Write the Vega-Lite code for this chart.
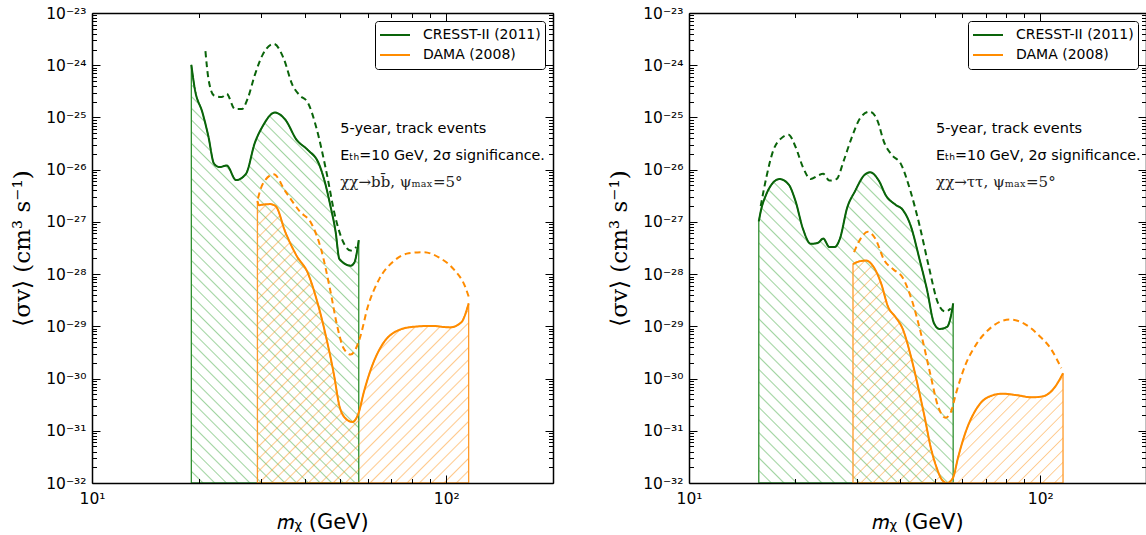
{
  "$schema": "https://vega.github.io/schema/vega-lite/v6.json",
  "padding": {"left": 11, "top": 6, "right": 0, "bottom": 0},
  "background": "white",
  "spacing": 136,
  "bounds": "flush",
  "config": {"view": {"stroke": null}},
  "datasets": {
    "curves": [
      {"panel": "bb", "series": "CRESST-II (2011)", "kind": "solid", "mass": 19.07, "sigmav": 1.02e-24},
      {"panel": "bb", "series": "CRESST-II (2011)", "kind": "solid", "mass": 19.5, "sigmav": 3.55e-25},
      {"panel": "bb", "series": "CRESST-II (2011)", "kind": "solid", "mass": 20.5, "sigmav": 1.24e-25},
      {"panel": "bb", "series": "CRESST-II (2011)", "kind": "solid", "mass": 21.3, "sigmav": 4.37e-26},
      {"panel": "bb", "series": "CRESST-II (2011)", "kind": "solid", "mass": 22.1, "sigmav": 1.30e-26},
      {"panel": "bb", "series": "CRESST-II (2011)", "kind": "solid", "mass": 22.9, "sigmav": 1.12e-26},
      {"panel": "bb", "series": "CRESST-II (2011)", "kind": "solid", "mass": 24.0, "sigmav": 1.20e-26},
      {"panel": "bb", "series": "CRESST-II (2011)", "kind": "solid", "mass": 25.5, "sigmav": 6.31e-27},
      {"panel": "bb", "series": "CRESST-II (2011)", "kind": "solid", "mass": 27.2, "sigmav": 8.32e-27},
      {"panel": "bb", "series": "CRESST-II (2011)", "kind": "solid", "mass": 28.8, "sigmav": 3.24e-26},
      {"panel": "bb", "series": "CRESST-II (2011)", "kind": "solid", "mass": 30.3, "sigmav": 6.76e-26},
      {"panel": "bb", "series": "CRESST-II (2011)", "kind": "solid", "mass": 32.8, "sigmav": 1.24e-25},
      {"panel": "bb", "series": "CRESST-II (2011)", "kind": "solid", "mass": 35.1, "sigmav": 9.12e-26},
      {"panel": "bb", "series": "CRESST-II (2011)", "kind": "solid", "mass": 37.8, "sigmav": 3.72e-26},
      {"panel": "bb", "series": "CRESST-II (2011)", "kind": "solid", "mass": 40.6, "sigmav": 2.40e-26},
      {"panel": "bb", "series": "CRESST-II (2011)", "kind": "solid", "mass": 43.7, "sigmav": 1.29e-26},
      {"panel": "bb", "series": "CRESST-II (2011)", "kind": "solid", "mass": 45.3, "sigmav": 6.17e-27},
      {"panel": "bb", "series": "CRESST-II (2011)", "kind": "solid", "mass": 47.0, "sigmav": 2.14e-27},
      {"panel": "bb", "series": "CRESST-II (2011)", "kind": "solid", "mass": 48.7, "sigmav": 6.46e-28},
      {"panel": "bb", "series": "CRESST-II (2011)", "kind": "solid", "mass": 49.9, "sigmav": 1.95e-28},
      {"panel": "bb", "series": "CRESST-II (2011)", "kind": "solid", "mass": 53.7, "sigmav": 1.45e-28},
      {"panel": "bb", "series": "CRESST-II (2011)", "kind": "solid", "mass": 55.0, "sigmav": 1.66e-28},
      {"panel": "bb", "series": "CRESST-II (2011)", "kind": "solid", "mass": 56.6, "sigmav": 4.47e-28},

      {"panel": "bb", "series": "CRESST-II (2011)", "kind": "dashed", "mass": 20.9, "sigmav": 1.86e-24},
      {"panel": "bb", "series": "CRESST-II (2011)", "kind": "dashed", "mass": 21.3, "sigmav": 5.62e-25},
      {"panel": "bb", "series": "CRESST-II (2011)", "kind": "dashed", "mass": 22.1, "sigmav": 2.63e-25},
      {"panel": "bb", "series": "CRESST-II (2011)", "kind": "dashed", "mass": 23.2, "sigmav": 2.45e-25},
      {"panel": "bb", "series": "CRESST-II (2011)", "kind": "dashed", "mass": 24.0, "sigmav": 2.82e-25},
      {"panel": "bb", "series": "CRESST-II (2011)", "kind": "dashed", "mass": 25.3, "sigmav": 1.45e-25},
      {"panel": "bb", "series": "CRESST-II (2011)", "kind": "dashed", "mass": 26.5, "sigmav": 1.45e-25},
      {"panel": "bb", "series": "CRESST-II (2011)", "kind": "dashed", "mass": 27.5, "sigmav": 2.29e-25},
      {"panel": "bb", "series": "CRESST-II (2011)", "kind": "dashed", "mass": 28.8, "sigmav": 6.46e-25},
      {"panel": "bb", "series": "CRESST-II (2011)", "kind": "dashed", "mass": 30.3, "sigmav": 1.58e-24},
      {"panel": "bb", "series": "CRESST-II (2011)", "kind": "dashed", "mass": 32.6, "sigmav": 2.57e-24},
      {"panel": "bb", "series": "CRESST-II (2011)", "kind": "dashed", "mass": 34.7, "sigmav": 1.38e-24},
      {"panel": "bb", "series": "CRESST-II (2011)", "kind": "dashed", "mass": 36.8, "sigmav": 4.17e-25},
      {"panel": "bb", "series": "CRESST-II (2011)", "kind": "dashed", "mass": 38.6, "sigmav": 2.63e-25},
      {"panel": "bb", "series": "CRESST-II (2011)", "kind": "dashed", "mass": 40.6, "sigmav": 1.95e-25},
      {"panel": "bb", "series": "CRESST-II (2011)", "kind": "dashed", "mass": 43.1, "sigmav": 5.89e-26},
      {"panel": "bb", "series": "CRESST-II (2011)", "kind": "dashed", "mass": 45.8, "sigmav": 9.55e-27},
      {"panel": "bb", "series": "CRESST-II (2011)", "kind": "dashed", "mass": 48.7, "sigmav": 1.17e-27},
      {"panel": "bb", "series": "CRESST-II (2011)", "kind": "dashed", "mass": 51.2, "sigmav": 4.07e-28},
      {"panel": "bb", "series": "CRESST-II (2011)", "kind": "dashed", "mass": 53.7, "sigmav": 2.82e-28},
      {"panel": "bb", "series": "CRESST-II (2011)", "kind": "dashed", "mass": 55.7, "sigmav": 3.31e-28},

      {"panel": "bb", "series": "DAMA (2008)", "kind": "solid", "mass": 29.3, "sigmav": 2.51e-27},
      {"panel": "bb", "series": "DAMA (2008)", "kind": "solid", "mass": 29.6, "sigmav": 2.09e-27},
      {"panel": "bb", "series": "DAMA (2008)", "kind": "solid", "mass": 30.3, "sigmav": 2.14e-27},
      {"panel": "bb", "series": "DAMA (2008)", "kind": "solid", "mass": 31.8, "sigmav": 2.19e-27},
      {"panel": "bb", "series": "DAMA (2008)", "kind": "solid", "mass": 33.0, "sigmav": 2.00e-27},
      {"panel": "bb", "series": "DAMA (2008)", "kind": "solid", "mass": 35.1, "sigmav": 6.46e-28},
      {"panel": "bb", "series": "DAMA (2008)", "kind": "solid", "mass": 37.8, "sigmav": 2.24e-28},
      {"panel": "bb", "series": "DAMA (2008)", "kind": "solid", "mass": 40.6, "sigmav": 1.07e-28},
      {"panel": "bb", "series": "DAMA (2008)", "kind": "solid", "mass": 43.1, "sigmav": 3.16e-29},
      {"panel": "bb", "series": "DAMA (2008)", "kind": "solid", "mass": 45.8, "sigmav": 6.17e-30},
      {"panel": "bb", "series": "DAMA (2008)", "kind": "solid", "mass": 48.2, "sigmav": 1.17e-30},
      {"panel": "bb", "series": "DAMA (2008)", "kind": "solid", "mass": 49.9, "sigmav": 3.02e-31},
      {"panel": "bb", "series": "DAMA (2008)", "kind": "solid", "mass": 51.7, "sigmav": 1.78e-31},
      {"panel": "bb", "series": "DAMA (2008)", "kind": "solid", "mass": 54.3, "sigmav": 1.48e-31},
      {"panel": "bb", "series": "DAMA (2008)", "kind": "solid", "mass": 56.6, "sigmav": 2.24e-31},
      {"panel": "bb", "series": "DAMA (2008)", "kind": "solid", "mass": 58.5, "sigmav": 5.50e-31},
      {"panel": "bb", "series": "DAMA (2008)", "kind": "solid", "mass": 61.4, "sigmav": 1.58e-30},
      {"panel": "bb", "series": "DAMA (2008)", "kind": "solid", "mass": 66.1, "sigmav": 4.57e-30},
      {"panel": "bb", "series": "DAMA (2008)", "kind": "solid", "mass": 71.1, "sigmav": 7.59e-30},
      {"panel": "bb", "series": "DAMA (2008)", "kind": "solid", "mass": 80.3, "sigmav": 9.77e-30},
      {"panel": "bb", "series": "DAMA (2008)", "kind": "solid", "mass": 90.8, "sigmav": 1.02e-29},
      {"panel": "bb", "series": "DAMA (2008)", "kind": "solid", "mass": 102.5, "sigmav": 9.55e-30},
      {"panel": "bb", "series": "DAMA (2008)", "kind": "solid", "mass": 110.3, "sigmav": 1.20e-29},
      {"panel": "bb", "series": "DAMA (2008)", "kind": "solid", "mass": 115.6, "sigmav": 2.75e-29},

      {"panel": "bb", "series": "DAMA (2008)", "kind": "dashed", "mass": 29.4, "sigmav": 2.82e-27},
      {"panel": "bb", "series": "DAMA (2008)", "kind": "dashed", "mass": 30.3, "sigmav": 5.25e-27},
      {"panel": "bb", "series": "DAMA (2008)", "kind": "dashed", "mass": 32.6, "sigmav": 8.13e-27},
      {"panel": "bb", "series": "DAMA (2008)", "kind": "dashed", "mass": 35.1, "sigmav": 3.89e-27},
      {"panel": "bb", "series": "DAMA (2008)", "kind": "dashed", "mass": 38.6, "sigmav": 1.58e-27},
      {"panel": "bb", "series": "DAMA (2008)", "kind": "dashed", "mass": 41.6, "sigmav": 9.33e-28},
      {"panel": "bb", "series": "DAMA (2008)", "kind": "dashed", "mass": 44.3, "sigmav": 3.02e-28},
      {"panel": "bb", "series": "DAMA (2008)", "kind": "dashed", "mass": 47.0, "sigmav": 5.01e-29},
      {"panel": "bb", "series": "DAMA (2008)", "kind": "dashed", "mass": 49.3, "sigmav": 9.55e-30},
      {"panel": "bb", "series": "DAMA (2008)", "kind": "dashed", "mass": 51.2, "sigmav": 3.89e-30},
      {"panel": "bb", "series": "DAMA (2008)", "kind": "dashed", "mass": 53.7, "sigmav": 2.88e-30},
      {"panel": "bb", "series": "DAMA (2008)", "kind": "dashed", "mass": 55.7, "sigmav": 3.89e-30},
      {"panel": "bb", "series": "DAMA (2008)", "kind": "dashed", "mass": 57.1, "sigmav": 6.17e-30},
      {"panel": "bb", "series": "DAMA (2008)", "kind": "dashed", "mass": 60.0, "sigmav": 2.34e-29},
      {"panel": "bb", "series": "DAMA (2008)", "kind": "dashed", "mass": 64.6, "sigmav": 7.94e-29},
      {"panel": "bb", "series": "DAMA (2008)", "kind": "dashed", "mass": 71.1, "sigmav": 1.78e-28},
      {"panel": "bb", "series": "DAMA (2008)", "kind": "dashed", "mass": 78.3, "sigmav": 2.51e-28},
      {"panel": "bb", "series": "DAMA (2008)", "kind": "dashed", "mass": 86.3, "sigmav": 2.63e-28},
      {"panel": "bb", "series": "DAMA (2008)", "kind": "dashed", "mass": 95.2, "sigmav": 2.09e-28},
      {"panel": "bb", "series": "DAMA (2008)", "kind": "dashed", "mass": 105.0, "sigmav": 1.23e-28},
      {"panel": "bb", "series": "DAMA (2008)", "kind": "dashed", "mass": 113.0, "sigmav": 5.75e-29},
      {"panel": "bb", "series": "DAMA (2008)", "kind": "dashed", "mass": 115.6, "sigmav": 3.72e-29},

      {"panel": "tt", "series": "CRESST-II (2011)", "kind": "solid", "mass": 15.8, "sigmav": 1.02e-27},
      {"panel": "tt", "series": "CRESST-II (2011)", "kind": "solid", "mass": 16.0, "sigmav": 1.58e-27},
      {"panel": "tt", "series": "CRESST-II (2011)", "kind": "solid", "mass": 16.6, "sigmav": 3.39e-27},
      {"panel": "tt", "series": "CRESST-II (2011)", "kind": "solid", "mass": 17.2, "sigmav": 5.25e-27},
      {"panel": "tt", "series": "CRESST-II (2011)", "kind": "solid", "mass": 18.1, "sigmav": 6.61e-27},
      {"panel": "tt", "series": "CRESST-II (2011)", "kind": "solid", "mass": 19.2, "sigmav": 5.25e-27},
      {"panel": "tt", "series": "CRESST-II (2011)", "kind": "solid", "mass": 20.1, "sigmav": 2.51e-27},
      {"panel": "tt", "series": "CRESST-II (2011)", "kind": "solid", "mass": 21.1, "sigmav": 7.41e-28},
      {"panel": "tt", "series": "CRESST-II (2011)", "kind": "solid", "mass": 22.2, "sigmav": 3.80e-28},
      {"panel": "tt", "series": "CRESST-II (2011)", "kind": "solid", "mass": 23.3, "sigmav": 3.98e-28},
      {"panel": "tt", "series": "CRESST-II (2011)", "kind": "solid", "mass": 24.1, "sigmav": 4.79e-28},
      {"panel": "tt", "series": "CRESST-II (2011)", "kind": "solid", "mass": 25.1, "sigmav": 3.31e-28},
      {"panel": "tt", "series": "CRESST-II (2011)", "kind": "solid", "mass": 26.0, "sigmav": 3.31e-28},
      {"panel": "tt", "series": "CRESST-II (2011)", "kind": "solid", "mass": 26.9, "sigmav": 4.79e-28},
      {"panel": "tt", "series": "CRESST-II (2011)", "kind": "solid", "mass": 28.2, "sigmav": 1.86e-27},
      {"panel": "tt", "series": "CRESST-II (2011)", "kind": "solid", "mass": 29.7, "sigmav": 3.89e-27},
      {"panel": "tt", "series": "CRESST-II (2011)", "kind": "solid", "mass": 31.5, "sigmav": 7.76e-27},
      {"panel": "tt", "series": "CRESST-II (2011)", "kind": "solid", "mass": 32.8, "sigmav": 8.91e-27},
      {"panel": "tt", "series": "CRESST-II (2011)", "kind": "solid", "mass": 34.7, "sigmav": 6.17e-27},
      {"panel": "tt", "series": "CRESST-II (2011)", "kind": "solid", "mass": 36.4, "sigmav": 3.16e-27},
      {"panel": "tt", "series": "CRESST-II (2011)", "kind": "solid", "mass": 38.7, "sigmav": 2.14e-27},
      {"panel": "tt", "series": "CRESST-II (2011)", "kind": "solid", "mass": 40.6, "sigmav": 1.70e-27},
      {"panel": "tt", "series": "CRESST-II (2011)", "kind": "solid", "mass": 42.7, "sigmav": 8.71e-28},
      {"panel": "tt", "series": "CRESST-II (2011)", "kind": "solid", "mass": 45.3, "sigmav": 1.95e-28},
      {"panel": "tt", "series": "CRESST-II (2011)", "kind": "solid", "mass": 47.6, "sigmav": 5.01e-29},
      {"panel": "tt", "series": "CRESST-II (2011)", "kind": "solid", "mass": 49.9, "sigmav": 1.12e-29},
      {"panel": "tt", "series": "CRESST-II (2011)", "kind": "solid", "mass": 51.7, "sigmav": 8.91e-30},
      {"panel": "tt", "series": "CRESST-II (2011)", "kind": "solid", "mass": 54.3, "sigmav": 9.77e-30},
      {"panel": "tt", "series": "CRESST-II (2011)", "kind": "solid", "mass": 55.6, "sigmav": 1.51e-29},
      {"panel": "tt", "series": "CRESST-II (2011)", "kind": "solid", "mass": 56.5, "sigmav": 2.75e-29},

      {"panel": "tt", "series": "CRESST-II (2011)", "kind": "dashed", "mass": 16.0, "sigmav": 2.00e-27},
      {"panel": "tt", "series": "CRESST-II (2011)", "kind": "dashed", "mass": 16.6, "sigmav": 7.08e-27},
      {"panel": "tt", "series": "CRESST-II (2011)", "kind": "dashed", "mass": 17.4, "sigmav": 2.40e-26},
      {"panel": "tt", "series": "CRESST-II (2011)", "kind": "dashed", "mass": 18.3, "sigmav": 3.98e-26},
      {"panel": "tt", "series": "CRESST-II (2011)", "kind": "dashed", "mass": 19.2, "sigmav": 4.68e-26},
      {"panel": "tt", "series": "CRESST-II (2011)", "kind": "dashed", "mass": 20.1, "sigmav": 2.75e-26},
      {"panel": "tt", "series": "CRESST-II (2011)", "kind": "dashed", "mass": 21.1, "sigmav": 1.12e-26},
      {"panel": "tt", "series": "CRESST-II (2011)", "kind": "dashed", "mass": 22.2, "sigmav": 6.61e-27},
      {"panel": "tt", "series": "CRESST-II (2011)", "kind": "dashed", "mass": 23.3, "sigmav": 7.76e-27},
      {"panel": "tt", "series": "CRESST-II (2011)", "kind": "dashed", "mass": 24.1, "sigmav": 8.32e-27},
      {"panel": "tt", "series": "CRESST-II (2011)", "kind": "dashed", "mass": 25.1, "sigmav": 6.17e-27},
      {"panel": "tt", "series": "CRESST-II (2011)", "kind": "dashed", "mass": 26.3, "sigmav": 6.61e-27},
      {"panel": "tt", "series": "CRESST-II (2011)", "kind": "dashed", "mass": 27.6, "sigmav": 1.51e-26},
      {"panel": "tt", "series": "CRESST-II (2011)", "kind": "dashed", "mass": 29.0, "sigmav": 3.98e-26},
      {"panel": "tt", "series": "CRESST-II (2011)", "kind": "dashed", "mass": 30.8, "sigmav": 1.00e-25},
      {"panel": "tt", "series": "CRESST-II (2011)", "kind": "dashed", "mass": 32.7, "sigmav": 1.29e-25},
      {"panel": "tt", "series": "CRESST-II (2011)", "kind": "dashed", "mass": 34.3, "sigmav": 9.12e-26},
      {"panel": "tt", "series": "CRESST-II (2011)", "kind": "dashed", "mass": 36.0, "sigmav": 3.24e-26},
      {"panel": "tt", "series": "CRESST-II (2011)", "kind": "dashed", "mass": 37.8, "sigmav": 1.91e-26},
      {"panel": "tt", "series": "CRESST-II (2011)", "kind": "dashed", "mass": 40.1, "sigmav": 1.29e-26},
      {"panel": "tt", "series": "CRESST-II (2011)", "kind": "dashed", "mass": 42.7, "sigmav": 3.89e-27},
      {"panel": "tt", "series": "CRESST-II (2011)", "kind": "dashed", "mass": 45.3, "sigmav": 8.71e-28},
      {"panel": "tt", "series": "CRESST-II (2011)", "kind": "dashed", "mass": 48.1, "sigmav": 1.45e-28},
      {"panel": "tt", "series": "CRESST-II (2011)", "kind": "dashed", "mass": 51.2, "sigmav": 2.75e-29},
      {"panel": "tt", "series": "CRESST-II (2011)", "kind": "dashed", "mass": 53.7, "sigmav": 1.91e-29},
      {"panel": "tt", "series": "CRESST-II (2011)", "kind": "dashed", "mass": 55.6, "sigmav": 2.19e-29},

      {"panel": "tt", "series": "DAMA (2008)", "kind": "solid", "mass": 29.3, "sigmav": 1.55e-28},
      {"panel": "tt", "series": "DAMA (2008)", "kind": "solid", "mass": 30.4, "sigmav": 1.74e-28},
      {"panel": "tt", "series": "DAMA (2008)", "kind": "solid", "mass": 31.9, "sigmav": 1.82e-28},
      {"panel": "tt", "series": "DAMA (2008)", "kind": "solid", "mass": 33.1, "sigmav": 1.55e-28},
      {"panel": "tt", "series": "DAMA (2008)", "kind": "solid", "mass": 35.2, "sigmav": 6.76e-29},
      {"panel": "tt", "series": "DAMA (2008)", "kind": "solid", "mass": 36.9, "sigmav": 2.34e-29},
      {"panel": "tt", "series": "DAMA (2008)", "kind": "solid", "mass": 38.7, "sigmav": 1.51e-29},
      {"panel": "tt", "series": "DAMA (2008)", "kind": "solid", "mass": 40.6, "sigmav": 8.91e-30},
      {"panel": "tt", "series": "DAMA (2008)", "kind": "solid", "mass": 42.7, "sigmav": 2.88e-30},
      {"panel": "tt", "series": "DAMA (2008)", "kind": "solid", "mass": 44.8, "sigmav": 7.41e-31},
      {"panel": "tt", "series": "DAMA (2008)", "kind": "solid", "mass": 47.0, "sigmav": 1.66e-31},
      {"panel": "tt", "series": "DAMA (2008)", "kind": "solid", "mass": 48.7, "sigmav": 5.01e-32},
      {"panel": "tt", "series": "DAMA (2008)", "kind": "solid", "mass": 50.6, "sigmav": 2.04e-32},
      {"panel": "tt", "series": "DAMA (2008)", "kind": "solid", "mass": 52.5, "sigmav": 1.15e-32},
      {"panel": "tt", "series": "DAMA (2008)", "kind": "solid", "mass": 54.3, "sigmav": 1.0e-32},
      {"panel": "tt", "series": "DAMA (2008)", "kind": "solid", "mass": 56.4, "sigmav": 1.25e-32},
      {"panel": "tt", "series": "DAMA (2008)", "kind": "solid", "mass": 58.4, "sigmav": 3.16e-32},
      {"panel": "tt", "series": "DAMA (2008)", "kind": "solid", "mass": 61.2, "sigmav": 9.12e-32},
      {"panel": "tt", "series": "DAMA (2008)", "kind": "solid", "mass": 65.8, "sigmav": 2.63e-31},
      {"panel": "tt", "series": "DAMA (2008)", "kind": "solid", "mass": 70.8, "sigmav": 4.37e-31},
      {"panel": "tt", "series": "DAMA (2008)", "kind": "solid", "mass": 78.0, "sigmav": 5.13e-31},
      {"panel": "tt", "series": "DAMA (2008)", "kind": "solid", "mass": 85.9, "sigmav": 4.79e-31},
      {"panel": "tt", "series": "DAMA (2008)", "kind": "solid", "mass": 94.6, "sigmav": 4.37e-31},
      {"panel": "tt", "series": "DAMA (2008)", "kind": "solid", "mass": 101.7, "sigmav": 4.57e-31},
      {"panel": "tt", "series": "DAMA (2008)", "kind": "solid", "mass": 109.3, "sigmav": 6.46e-31},
      {"panel": "tt", "series": "DAMA (2008)", "kind": "solid", "mass": 116.1, "sigmav": 1.26e-30},

      {"panel": "tt", "series": "DAMA (2008)", "kind": "dashed", "mass": 29.5, "sigmav": 2.63e-28},
      {"panel": "tt", "series": "DAMA (2008)", "kind": "dashed", "mass": 30.8, "sigmav": 4.79e-28},
      {"panel": "tt", "series": "DAMA (2008)", "kind": "dashed", "mass": 32.3, "sigmav": 6.46e-28},
      {"panel": "tt", "series": "DAMA (2008)", "kind": "dashed", "mass": 33.9, "sigmav": 4.79e-28},
      {"panel": "tt", "series": "DAMA (2008)", "kind": "dashed", "mass": 36.0, "sigmav": 1.82e-28},
      {"panel": "tt", "series": "DAMA (2008)", "kind": "dashed", "mass": 38.2, "sigmav": 1.23e-28},
      {"panel": "tt", "series": "DAMA (2008)", "kind": "dashed", "mass": 40.6, "sigmav": 8.51e-29},
      {"panel": "tt", "series": "DAMA (2008)", "kind": "dashed", "mass": 43.1, "sigmav": 3.16e-29},
      {"panel": "tt", "series": "DAMA (2008)", "kind": "dashed", "mass": 45.8, "sigmav": 7.08e-30},
      {"panel": "tt", "series": "DAMA (2008)", "kind": "dashed", "mass": 48.7, "sigmav": 1.17e-30},
      {"panel": "tt", "series": "DAMA (2008)", "kind": "dashed", "mass": 51.1, "sigmav": 3.02e-31},
      {"panel": "tt", "series": "DAMA (2008)", "kind": "dashed", "mass": 53.7, "sigmav": 1.78e-31},
      {"panel": "tt", "series": "DAMA (2008)", "kind": "dashed", "mass": 55.6, "sigmav": 2.24e-31},
      {"panel": "tt", "series": "DAMA (2008)", "kind": "dashed", "mass": 57.7, "sigmav": 5.50e-31},
      {"panel": "tt", "series": "DAMA (2008)", "kind": "dashed", "mass": 61.2, "sigmav": 1.82e-30},
      {"panel": "tt", "series": "DAMA (2008)", "kind": "dashed", "mass": 65.8, "sigmav": 4.57e-30},
      {"panel": "tt", "series": "DAMA (2008)", "kind": "dashed", "mass": 72.5, "sigmav": 9.55e-30},
      {"panel": "tt", "series": "DAMA (2008)", "kind": "dashed", "mass": 81.8, "sigmav": 1.35e-29},
      {"panel": "tt", "series": "DAMA (2008)", "kind": "dashed", "mass": 90.2, "sigmav": 1.12e-29},
      {"panel": "tt", "series": "DAMA (2008)", "kind": "dashed", "mass": 99.3, "sigmav": 6.61e-30},
      {"panel": "tt", "series": "DAMA (2008)", "kind": "dashed", "mass": 106.7, "sigmav": 3.89e-30},
      {"panel": "tt", "series": "DAMA (2008)", "kind": "dashed", "mass": 114.8, "sigmav": 1.58e-30}
    ]
  },
  "resolve": {"scale": {"color": "independent", "strokeDash": "independent"}, "legend": {"color": "independent", "strokeDash": "independent"}},
  "hconcat": [
    {
      "width": 461,
      "height": 470,
      "data": {"name": "curves"},
      "transform": [{"filter": "datum.panel == 'bb'"}],
      "resolve": {"axis": {"x": "independent", "y": "independent"}},
      "layer": [
        {
          "transform": [{"filter": "datum.series == 'CRESST-II (2011)' && datum.kind == 'solid'"}],
          "mark": {"type": "area", "interpolate": "monotone", "clip": true, "stroke": "#2f8f2f", "strokeWidth": 1.3,
            "fill": {"gradient": "linear", "x1": 0, "y1": 1, "x2": 0.4831, "y2": -0.2069, "stops": [
              {"offset":0.0175,"color":"#44aa4400"},{"offset":0.02,"color":"#44aa4480"},{"offset":0.0225,"color":"#44aa4400"},
              {"offset":0.0375,"color":"#44aa4400"},{"offset":0.04,"color":"#44aa4480"},{"offset":0.0425,"color":"#44aa4400"},
              {"offset":0.0575,"color":"#44aa4400"},{"offset":0.06,"color":"#44aa4480"},{"offset":0.0625,"color":"#44aa4400"},
              {"offset":0.0775,"color":"#44aa4400"},{"offset":0.08,"color":"#44aa4480"},{"offset":0.0825,"color":"#44aa4400"},
              {"offset":0.0975,"color":"#44aa4400"},{"offset":0.10,"color":"#44aa4480"},{"offset":0.1025,"color":"#44aa4400"},
              {"offset":0.1175,"color":"#44aa4400"},{"offset":0.12,"color":"#44aa4480"},{"offset":0.1225,"color":"#44aa4400"},
              {"offset":0.1375,"color":"#44aa4400"},{"offset":0.14,"color":"#44aa4480"},{"offset":0.1425,"color":"#44aa4400"},
              {"offset":0.1575,"color":"#44aa4400"},{"offset":0.16,"color":"#44aa4480"},{"offset":0.1625,"color":"#44aa4400"},
              {"offset":0.1775,"color":"#44aa4400"},{"offset":0.18,"color":"#44aa4480"},{"offset":0.1825,"color":"#44aa4400"},
              {"offset":0.1975,"color":"#44aa4400"},{"offset":0.20,"color":"#44aa4480"},{"offset":0.2025,"color":"#44aa4400"},
              {"offset":0.2175,"color":"#44aa4400"},{"offset":0.22,"color":"#44aa4480"},{"offset":0.2225,"color":"#44aa4400"},
              {"offset":0.2375,"color":"#44aa4400"},{"offset":0.24,"color":"#44aa4480"},{"offset":0.2425,"color":"#44aa4400"},
              {"offset":0.2575,"color":"#44aa4400"},{"offset":0.26,"color":"#44aa4480"},{"offset":0.2625,"color":"#44aa4400"},
              {"offset":0.2775,"color":"#44aa4400"},{"offset":0.28,"color":"#44aa4480"},{"offset":0.2825,"color":"#44aa4400"},
              {"offset":0.2975,"color":"#44aa4400"},{"offset":0.30,"color":"#44aa4480"},{"offset":0.3025,"color":"#44aa4400"},
              {"offset":0.3175,"color":"#44aa4400"},{"offset":0.32,"color":"#44aa4480"},{"offset":0.3225,"color":"#44aa4400"},
              {"offset":0.3375,"color":"#44aa4400"},{"offset":0.34,"color":"#44aa4480"},{"offset":0.3425,"color":"#44aa4400"},
              {"offset":0.3575,"color":"#44aa4400"},{"offset":0.36,"color":"#44aa4480"},{"offset":0.3625,"color":"#44aa4400"},
              {"offset":0.3775,"color":"#44aa4400"},{"offset":0.38,"color":"#44aa4480"},{"offset":0.3825,"color":"#44aa4400"},
              {"offset":0.3975,"color":"#44aa4400"},{"offset":0.40,"color":"#44aa4480"},{"offset":0.4025,"color":"#44aa4400"},
              {"offset":0.4175,"color":"#44aa4400"},{"offset":0.42,"color":"#44aa4480"},{"offset":0.4225,"color":"#44aa4400"},
              {"offset":0.4375,"color":"#44aa4400"},{"offset":0.44,"color":"#44aa4480"},{"offset":0.4425,"color":"#44aa4400"},
              {"offset":0.4575,"color":"#44aa4400"},{"offset":0.46,"color":"#44aa4480"},{"offset":0.4625,"color":"#44aa4400"},
              {"offset":0.4775,"color":"#44aa4400"},{"offset":0.48,"color":"#44aa4480"},{"offset":0.4825,"color":"#44aa4400"},
              {"offset":0.4975,"color":"#44aa4400"},{"offset":0.50,"color":"#44aa4480"},{"offset":0.5025,"color":"#44aa4400"},
              {"offset":0.5175,"color":"#44aa4400"},{"offset":0.52,"color":"#44aa4480"},{"offset":0.5225,"color":"#44aa4400"},
              {"offset":0.5375,"color":"#44aa4400"},{"offset":0.54,"color":"#44aa4480"},{"offset":0.5425,"color":"#44aa4400"},
              {"offset":0.5575,"color":"#44aa4400"},{"offset":0.56,"color":"#44aa4480"},{"offset":0.5625,"color":"#44aa4400"},
              {"offset":0.5775,"color":"#44aa4400"},{"offset":0.58,"color":"#44aa4480"},{"offset":0.5825,"color":"#44aa4400"},
              {"offset":0.5975,"color":"#44aa4400"},{"offset":0.60,"color":"#44aa4480"},{"offset":0.6025,"color":"#44aa4400"},
              {"offset":0.6175,"color":"#44aa4400"},{"offset":0.62,"color":"#44aa4480"},{"offset":0.6225,"color":"#44aa4400"},
              {"offset":0.6375,"color":"#44aa4400"},{"offset":0.64,"color":"#44aa4480"},{"offset":0.6425,"color":"#44aa4400"},
              {"offset":0.6575,"color":"#44aa4400"},{"offset":0.66,"color":"#44aa4480"},{"offset":0.6625,"color":"#44aa4400"},
              {"offset":0.6775,"color":"#44aa4400"},{"offset":0.68,"color":"#44aa4480"},{"offset":0.6825,"color":"#44aa4400"},
              {"offset":0.6975,"color":"#44aa4400"},{"offset":0.70,"color":"#44aa4480"},{"offset":0.7025,"color":"#44aa4400"},
              {"offset":0.7175,"color":"#44aa4400"},{"offset":0.72,"color":"#44aa4480"},{"offset":0.7225,"color":"#44aa4400"},
              {"offset":0.7375,"color":"#44aa4400"},{"offset":0.74,"color":"#44aa4480"},{"offset":0.7425,"color":"#44aa4400"},
              {"offset":0.7575,"color":"#44aa4400"},{"offset":0.76,"color":"#44aa4480"},{"offset":0.7625,"color":"#44aa4400"},
              {"offset":0.7775,"color":"#44aa4400"},{"offset":0.78,"color":"#44aa4480"},{"offset":0.7825,"color":"#44aa4400"},
              {"offset":0.7975,"color":"#44aa4400"},{"offset":0.80,"color":"#44aa4480"},{"offset":0.8025,"color":"#44aa4400"},
              {"offset":0.8175,"color":"#44aa4400"},{"offset":0.82,"color":"#44aa4480"},{"offset":0.8225,"color":"#44aa4400"},
              {"offset":0.8375,"color":"#44aa4400"},{"offset":0.84,"color":"#44aa4480"},{"offset":0.8425,"color":"#44aa4400"},
              {"offset":0.8575,"color":"#44aa4400"},{"offset":0.86,"color":"#44aa4480"},{"offset":0.8625,"color":"#44aa4400"},
              {"offset":0.8775,"color":"#44aa4400"},{"offset":0.88,"color":"#44aa4480"},{"offset":0.8825,"color":"#44aa4400"},
              {"offset":0.8975,"color":"#44aa4400"},{"offset":0.90,"color":"#44aa4480"},{"offset":0.9025,"color":"#44aa4400"},
              {"offset":0.9175,"color":"#44aa4400"},{"offset":0.92,"color":"#44aa4480"},{"offset":0.9225,"color":"#44aa4400"},
              {"offset":0.9375,"color":"#44aa4400"},{"offset":0.94,"color":"#44aa4480"},{"offset":0.9425,"color":"#44aa4400"},
              {"offset":0.9575,"color":"#44aa4400"},{"offset":0.96,"color":"#44aa4480"},{"offset":0.9625,"color":"#44aa4400"},
              {"offset":0.9775,"color":"#44aa4400"},{"offset":0.98,"color":"#44aa4480"},{"offset":0.9825,"color":"#44aa4400"}
            ]}},
          "encoding": {
            "x": {"field": "mass", "type": "quantitative", "scale": {"type": "log", "domain": [10, 200], "nice": false},
              "axis": {"orient": "bottom", "values": [10, 20, 30, 40, 50, 60, 70, 80, 90, 100, 200], "zindex": 1, "grid": false,
                "tickSize": {"condition": {"test": "datum.value == 10 || datum.value == 100", "value": -8}, "value": -4.5},
                "tickColor": "black", "tickWidth": 1, "domainColor": "black", "domainWidth": 1.5,
                "labelExpr": "datum.value == 10 ? '10¹' : datum.value == 100 ? '10²' : ''",
                "labelFont": "DejaVu Sans", "labelFontSize": 15.5, "labelColor": "black", "labelPadding": 16, "labelFlush": false, "labelOverlap": false, "labelBound": false,
                "title": "𝑚ᵪ (GeV)", "titleFont": "DejaVu Sans", "titleFontSize": 21, "titleFontWeight": "normal", "titleColor": "black", "titlePadding": 1}},
            "y": {"field": "sigmav", "type": "quantitative", "scale": {"type": "log", "domain": [1e-32, 1e-23], "nice": false},
              "axis": {"orient": "left", "zindex": 1, "grid": false,
                "values": [1e-32,2e-32,3e-32,4e-32,5e-32,6e-32,7e-32,8e-32,9e-32,1e-31,2e-31,3e-31,4e-31,5e-31,6e-31,7e-31,8e-31,9e-31,1e-30,2e-30,3e-30,4e-30,5e-30,6e-30,7e-30,8e-30,9e-30,1e-29,2e-29,3e-29,4e-29,5e-29,6e-29,7e-29,8e-29,9e-29,1e-28,2e-28,3e-28,4e-28,5e-28,6e-28,7e-28,8e-28,9e-28,1e-27,2e-27,3e-27,4e-27,5e-27,6e-27,7e-27,8e-27,9e-27,1e-26,2e-26,3e-26,4e-26,5e-26,6e-26,7e-26,8e-26,9e-26,1e-25,2e-25,3e-25,4e-25,5e-25,6e-25,7e-25,8e-25,9e-25,1e-24,2e-24,3e-24,4e-24,5e-24,6e-24,7e-24,8e-24,9e-24,1e-23],
                "tickSize": {"condition": {"test": "abs(log(datum.value)/LN10 - round(log(datum.value)/LN10)) < 0.01", "value": -8}, "value": -4.5},
                "tickColor": "black", "tickWidth": 1, "domainColor": "black", "domainWidth": 1.5,
                "labelExpr": "abs(log(datum.value)/LN10 - round(log(datum.value)/LN10)) < 0.01 ? '10' + ['⁻³²','⁻³¹','⁻³⁰','⁻²⁹','⁻²⁸','⁻²⁷','⁻²⁶','⁻²⁵','⁻²⁴','⁻²³'][round(log(datum.value)/LN10) + 32] : ''",
                "labelFont": "DejaVu Sans", "labelFontSize": 15.5, "labelColor": "black", "labelPadding": 14, "labelFlush": false, "labelOverlap": false, "labelBound": false,
                "title": "⟨σv⟩ (cm³ s⁻¹)", "titleFont": "DejaVu Serif", "titleFontSize": 23, "titleFontWeight": "normal", "titleColor": "black", "titlePadding": 11}},
            "y2": {"datum": 1e-32}
          }
        },
        {
          "transform": [{"filter": "datum.series == 'DAMA (2008)' && datum.kind == 'solid'"}],
          "mark": {"type": "area", "interpolate": "monotone", "clip": true, "stroke": "#ff9a2a", "strokeWidth": 1.3,
            "fill": {"gradient": "linear", "x1": 0, "y1": 0, "x2": 0.8392, "y2": 1.1205, "stops": [
              {"offset":0.022,"color":"#ff880000"},{"offset":0.025,"color":"#ff880070"},{"offset":0.028,"color":"#ff880000"},
              {"offset":0.047,"color":"#ff880000"},{"offset":0.05,"color":"#ff880070"},{"offset":0.053,"color":"#ff880000"},
              {"offset":0.072,"color":"#ff880000"},{"offset":0.075,"color":"#ff880070"},{"offset":0.078,"color":"#ff880000"},
              {"offset":0.097,"color":"#ff880000"},{"offset":0.1,"color":"#ff880070"},{"offset":0.103,"color":"#ff880000"},
              {"offset":0.122,"color":"#ff880000"},{"offset":0.125,"color":"#ff880070"},{"offset":0.128,"color":"#ff880000"},
              {"offset":0.147,"color":"#ff880000"},{"offset":0.15,"color":"#ff880070"},{"offset":0.153,"color":"#ff880000"},
              {"offset":0.172,"color":"#ff880000"},{"offset":0.175,"color":"#ff880070"},{"offset":0.178,"color":"#ff880000"},
              {"offset":0.197,"color":"#ff880000"},{"offset":0.2,"color":"#ff880070"},{"offset":0.203,"color":"#ff880000"},
              {"offset":0.222,"color":"#ff880000"},{"offset":0.225,"color":"#ff880070"},{"offset":0.228,"color":"#ff880000"},
              {"offset":0.247,"color":"#ff880000"},{"offset":0.25,"color":"#ff880070"},{"offset":0.253,"color":"#ff880000"},
              {"offset":0.272,"color":"#ff880000"},{"offset":0.275,"color":"#ff880070"},{"offset":0.278,"color":"#ff880000"},
              {"offset":0.297,"color":"#ff880000"},{"offset":0.3,"color":"#ff880070"},{"offset":0.303,"color":"#ff880000"},
              {"offset":0.322,"color":"#ff880000"},{"offset":0.325,"color":"#ff880070"},{"offset":0.328,"color":"#ff880000"},
              {"offset":0.347,"color":"#ff880000"},{"offset":0.35,"color":"#ff880070"},{"offset":0.353,"color":"#ff880000"},
              {"offset":0.372,"color":"#ff880000"},{"offset":0.375,"color":"#ff880070"},{"offset":0.378,"color":"#ff880000"},
              {"offset":0.397,"color":"#ff880000"},{"offset":0.4,"color":"#ff880070"},{"offset":0.403,"color":"#ff880000"},
              {"offset":0.422,"color":"#ff880000"},{"offset":0.425,"color":"#ff880070"},{"offset":0.428,"color":"#ff880000"},
              {"offset":0.447,"color":"#ff880000"},{"offset":0.45,"color":"#ff880070"},{"offset":0.453,"color":"#ff880000"},
              {"offset":0.472,"color":"#ff880000"},{"offset":0.475,"color":"#ff880070"},{"offset":0.478,"color":"#ff880000"},
              {"offset":0.497,"color":"#ff880000"},{"offset":0.5,"color":"#ff880070"},{"offset":0.503,"color":"#ff880000"},
              {"offset":0.522,"color":"#ff880000"},{"offset":0.525,"color":"#ff880070"},{"offset":0.528,"color":"#ff880000"},
              {"offset":0.547,"color":"#ff880000"},{"offset":0.55,"color":"#ff880070"},{"offset":0.553,"color":"#ff880000"},
              {"offset":0.572,"color":"#ff880000"},{"offset":0.575,"color":"#ff880070"},{"offset":0.578,"color":"#ff880000"},
              {"offset":0.597,"color":"#ff880000"},{"offset":0.6,"color":"#ff880070"},{"offset":0.603,"color":"#ff880000"},
              {"offset":0.622,"color":"#ff880000"},{"offset":0.625,"color":"#ff880070"},{"offset":0.628,"color":"#ff880000"},
              {"offset":0.647,"color":"#ff880000"},{"offset":0.65,"color":"#ff880070"},{"offset":0.653,"color":"#ff880000"},
              {"offset":0.672,"color":"#ff880000"},{"offset":0.675,"color":"#ff880070"},{"offset":0.678,"color":"#ff880000"},
              {"offset":0.697,"color":"#ff880000"},{"offset":0.7,"color":"#ff880070"},{"offset":0.703,"color":"#ff880000"},
              {"offset":0.722,"color":"#ff880000"},{"offset":0.725,"color":"#ff880070"},{"offset":0.728,"color":"#ff880000"},
              {"offset":0.747,"color":"#ff880000"},{"offset":0.75,"color":"#ff880070"},{"offset":0.753,"color":"#ff880000"},
              {"offset":0.772,"color":"#ff880000"},{"offset":0.775,"color":"#ff880070"},{"offset":0.778,"color":"#ff880000"},
              {"offset":0.797,"color":"#ff880000"},{"offset":0.8,"color":"#ff880070"},{"offset":0.803,"color":"#ff880000"},
              {"offset":0.822,"color":"#ff880000"},{"offset":0.825,"color":"#ff880070"},{"offset":0.828,"color":"#ff880000"},
              {"offset":0.847,"color":"#ff880000"},{"offset":0.85,"color":"#ff880070"},{"offset":0.853,"color":"#ff880000"},
              {"offset":0.872,"color":"#ff880000"},{"offset":0.875,"color":"#ff880070"},{"offset":0.878,"color":"#ff880000"},
              {"offset":0.897,"color":"#ff880000"},{"offset":0.9,"color":"#ff880070"},{"offset":0.903,"color":"#ff880000"},
              {"offset":0.922,"color":"#ff880000"},{"offset":0.925,"color":"#ff880070"},{"offset":0.928,"color":"#ff880000"},
              {"offset":0.947,"color":"#ff880000"},{"offset":0.95,"color":"#ff880070"},{"offset":0.953,"color":"#ff880000"},
              {"offset":0.972,"color":"#ff880000"},{"offset":0.975,"color":"#ff880070"},{"offset":0.978,"color":"#ff880000"}
            ]}},
          "encoding": {
            "x": {"field": "mass", "type": "quantitative",
              "axis": {"orient": "top", "values": [10, 20, 30, 40, 50, 60, 70, 80, 90, 100, 200], "zindex": 1, "grid": false, "labels": false, "title": null,
                "tickSize": {"condition": {"test": "datum.value == 10 || datum.value == 100", "value": -8}, "value": -4.5},
                "tickColor": "black", "tickWidth": 1, "domainColor": "black", "domainWidth": 1.5}},
            "y": {"field": "sigmav", "type": "quantitative",
              "axis": {"orient": "right", "zindex": 1, "grid": false, "labels": false, "title": null,
                "values": [1e-32,2e-32,3e-32,4e-32,5e-32,6e-32,7e-32,8e-32,9e-32,1e-31,2e-31,3e-31,4e-31,5e-31,6e-31,7e-31,8e-31,9e-31,1e-30,2e-30,3e-30,4e-30,5e-30,6e-30,7e-30,8e-30,9e-30,1e-29,2e-29,3e-29,4e-29,5e-29,6e-29,7e-29,8e-29,9e-29,1e-28,2e-28,3e-28,4e-28,5e-28,6e-28,7e-28,8e-28,9e-28,1e-27,2e-27,3e-27,4e-27,5e-27,6e-27,7e-27,8e-27,9e-27,1e-26,2e-26,3e-26,4e-26,5e-26,6e-26,7e-26,8e-26,9e-26,1e-25,2e-25,3e-25,4e-25,5e-25,6e-25,7e-25,8e-25,9e-25,1e-24,2e-24,3e-24,4e-24,5e-24,6e-24,7e-24,8e-24,9e-24,1e-23],
                "tickSize": {"condition": {"test": "abs(log(datum.value)/LN10 - round(log(datum.value)/LN10)) < 0.01", "value": -8}, "value": -4.5},
                "tickColor": "black", "tickWidth": 1, "domainColor": "black", "domainWidth": 1.5}},
            "y2": {"datum": 1e-32}
          }
        },
        {
          "mark": {"type": "line", "interpolate": "monotone", "clip": true, "strokeWidth": 2},
          "encoding": {
            "x": {"field": "mass", "type": "quantitative", "axis": null},
            "y": {"field": "sigmav", "type": "quantitative", "axis": null},
            "color": {"field": "series", "type": "nominal", "scale": {"domain": ["CRESST-II (2011)", "DAMA (2008)"], "range": ["#0a640a", "#ff8c00"]},
              "legend": {"orient": "top-right", "offset": 8, "title": null, "symbolType": "stroke", "symbolSize": 900, "symbolStrokeWidth": 2, "clipHeight": 20,
                "labelFont": "DejaVu Sans", "labelFontSize": 14, "labelColor": "black", "labelOffset": 12, "padding": 4, "rowPadding": 0,
                "strokeColor": "black", "fillColor": "white", "cornerRadius": 3}},
            "strokeDash": {"field": "kind", "type": "nominal", "scale": {"domain": ["solid", "dashed"], "range": [[1, 0], [6, 4]]}, "legend": null},
            "detail": {"field": "kind"}
          }
        },
        {
          "data": {"values": [{}]},
          "mark": {"type": "text", "text": "5-year, track events", "align": "left", "baseline": "middle", "font": "DejaVu Sans", "fontSize": 14.5, "color": "black"},
          "encoding": {"x": {"datum": 50.2, "type": "quantitative", "axis": null}, "y": {"datum": 6.0e-26, "type": "quantitative", "axis": null}}
        },
        {
          "data": {"values": [{}]},
          "mark": {"type": "text", "text": "Eₜₕ=10 GeV, 2σ significance.", "align": "left", "baseline": "middle", "font": "DejaVu Sans", "fontSize": 14.3, "color": "black"},
          "encoding": {"x": {"datum": 50.2, "type": "quantitative", "axis": null}, "y": {"datum": 1.86e-26, "type": "quantitative", "axis": null}}
        },
        {
          "data": {"values": [{}]},
          "mark": {"type": "text", "text": "χχ→bb̄, ψₘₐₓ=5°", "align": "left", "baseline": "middle", "font": "DejaVu Serif", "fontSize": 15, "color": "#222222"},
          "encoding": {"x": {"datum": 50.2, "type": "quantitative", "axis": null}, "y": {"datum": 5.75e-27, "type": "quantitative", "axis": null}}
        }
      ]
    },
    {
      "width": 457,
      "height": 470,
      "data": {"name": "curves"},
      "transform": [{"filter": "datum.panel == 'tt'"}],
      "resolve": {"axis": {"x": "independent", "y": "independent"}},
      "layer": [
        {
          "transform": [{"filter": "datum.series == 'CRESST-II (2011)' && datum.kind == 'solid'"}],
          "mark": {"type": "area", "interpolate": "monotone", "clip": true, "stroke": "#2f8f2f", "strokeWidth": 1.3,
            "fill": {"gradient": "linear", "x1": 0, "y1": 1, "x2": 0.7310, "y2": -0.1683, "stops": [
              {"offset":0.022,"color":"#44aa4400"},{"offset":0.025,"color":"#44aa4480"},{"offset":0.028,"color":"#44aa4400"},
              {"offset":0.047,"color":"#44aa4400"},{"offset":0.05,"color":"#44aa4480"},{"offset":0.053,"color":"#44aa4400"},
              {"offset":0.072,"color":"#44aa4400"},{"offset":0.075,"color":"#44aa4480"},{"offset":0.078,"color":"#44aa4400"},
              {"offset":0.097,"color":"#44aa4400"},{"offset":0.1,"color":"#44aa4480"},{"offset":0.103,"color":"#44aa4400"},
              {"offset":0.122,"color":"#44aa4400"},{"offset":0.125,"color":"#44aa4480"},{"offset":0.128,"color":"#44aa4400"},
              {"offset":0.147,"color":"#44aa4400"},{"offset":0.15,"color":"#44aa4480"},{"offset":0.153,"color":"#44aa4400"},
              {"offset":0.172,"color":"#44aa4400"},{"offset":0.175,"color":"#44aa4480"},{"offset":0.178,"color":"#44aa4400"},
              {"offset":0.197,"color":"#44aa4400"},{"offset":0.2,"color":"#44aa4480"},{"offset":0.203,"color":"#44aa4400"},
              {"offset":0.222,"color":"#44aa4400"},{"offset":0.225,"color":"#44aa4480"},{"offset":0.228,"color":"#44aa4400"},
              {"offset":0.247,"color":"#44aa4400"},{"offset":0.25,"color":"#44aa4480"},{"offset":0.253,"color":"#44aa4400"},
              {"offset":0.272,"color":"#44aa4400"},{"offset":0.275,"color":"#44aa4480"},{"offset":0.278,"color":"#44aa4400"},
              {"offset":0.297,"color":"#44aa4400"},{"offset":0.3,"color":"#44aa4480"},{"offset":0.303,"color":"#44aa4400"},
              {"offset":0.322,"color":"#44aa4400"},{"offset":0.325,"color":"#44aa4480"},{"offset":0.328,"color":"#44aa4400"},
              {"offset":0.347,"color":"#44aa4400"},{"offset":0.35,"color":"#44aa4480"},{"offset":0.353,"color":"#44aa4400"},
              {"offset":0.372,"color":"#44aa4400"},{"offset":0.375,"color":"#44aa4480"},{"offset":0.378,"color":"#44aa4400"},
              {"offset":0.397,"color":"#44aa4400"},{"offset":0.4,"color":"#44aa4480"},{"offset":0.403,"color":"#44aa4400"},
              {"offset":0.422,"color":"#44aa4400"},{"offset":0.425,"color":"#44aa4480"},{"offset":0.428,"color":"#44aa4400"},
              {"offset":0.447,"color":"#44aa4400"},{"offset":0.45,"color":"#44aa4480"},{"offset":0.453,"color":"#44aa4400"},
              {"offset":0.472,"color":"#44aa4400"},{"offset":0.475,"color":"#44aa4480"},{"offset":0.478,"color":"#44aa4400"},
              {"offset":0.497,"color":"#44aa4400"},{"offset":0.5,"color":"#44aa4480"},{"offset":0.503,"color":"#44aa4400"},
              {"offset":0.522,"color":"#44aa4400"},{"offset":0.525,"color":"#44aa4480"},{"offset":0.528,"color":"#44aa4400"},
              {"offset":0.547,"color":"#44aa4400"},{"offset":0.55,"color":"#44aa4480"},{"offset":0.553,"color":"#44aa4400"},
              {"offset":0.572,"color":"#44aa4400"},{"offset":0.575,"color":"#44aa4480"},{"offset":0.578,"color":"#44aa4400"},
              {"offset":0.597,"color":"#44aa4400"},{"offset":0.6,"color":"#44aa4480"},{"offset":0.603,"color":"#44aa4400"},
              {"offset":0.622,"color":"#44aa4400"},{"offset":0.625,"color":"#44aa4480"},{"offset":0.628,"color":"#44aa4400"},
              {"offset":0.647,"color":"#44aa4400"},{"offset":0.65,"color":"#44aa4480"},{"offset":0.653,"color":"#44aa4400"},
              {"offset":0.672,"color":"#44aa4400"},{"offset":0.675,"color":"#44aa4480"},{"offset":0.678,"color":"#44aa4400"},
              {"offset":0.697,"color":"#44aa4400"},{"offset":0.7,"color":"#44aa4480"},{"offset":0.703,"color":"#44aa4400"},
              {"offset":0.722,"color":"#44aa4400"},{"offset":0.725,"color":"#44aa4480"},{"offset":0.728,"color":"#44aa4400"},
              {"offset":0.747,"color":"#44aa4400"},{"offset":0.75,"color":"#44aa4480"},{"offset":0.753,"color":"#44aa4400"},
              {"offset":0.772,"color":"#44aa4400"},{"offset":0.775,"color":"#44aa4480"},{"offset":0.778,"color":"#44aa4400"},
              {"offset":0.797,"color":"#44aa4400"},{"offset":0.8,"color":"#44aa4480"},{"offset":0.803,"color":"#44aa4400"},
              {"offset":0.822,"color":"#44aa4400"},{"offset":0.825,"color":"#44aa4480"},{"offset":0.828,"color":"#44aa4400"},
              {"offset":0.847,"color":"#44aa4400"},{"offset":0.85,"color":"#44aa4480"},{"offset":0.853,"color":"#44aa4400"},
              {"offset":0.872,"color":"#44aa4400"},{"offset":0.875,"color":"#44aa4480"},{"offset":0.878,"color":"#44aa4400"},
              {"offset":0.897,"color":"#44aa4400"},{"offset":0.9,"color":"#44aa4480"},{"offset":0.903,"color":"#44aa4400"},
              {"offset":0.922,"color":"#44aa4400"},{"offset":0.925,"color":"#44aa4480"},{"offset":0.928,"color":"#44aa4400"},
              {"offset":0.947,"color":"#44aa4400"},{"offset":0.95,"color":"#44aa4480"},{"offset":0.953,"color":"#44aa4400"},
              {"offset":0.972,"color":"#44aa4400"},{"offset":0.975,"color":"#44aa4480"},{"offset":0.978,"color":"#44aa4400"}
            ]}},
          "encoding": {
            "x": {"field": "mass", "type": "quantitative", "scale": {"type": "log", "domain": [10, 200], "nice": false},
              "axis": {"orient": "bottom", "values": [10, 20, 30, 40, 50, 60, 70, 80, 90, 100, 200], "zindex": 1, "grid": false,
                "tickSize": {"condition": {"test": "datum.value == 10 || datum.value == 100", "value": -8}, "value": -4.5},
                "tickColor": "black", "tickWidth": 1, "domainColor": "black", "domainWidth": 1.5,
                "labelExpr": "datum.value == 10 ? '10¹' : datum.value == 100 ? '10²' : ''",
                "labelFont": "DejaVu Sans", "labelFontSize": 15.5, "labelColor": "black", "labelPadding": 16, "labelFlush": false, "labelOverlap": false, "labelBound": false,
                "title": "𝑚ᵪ (GeV)", "titleFont": "DejaVu Sans", "titleFontSize": 21, "titleFontWeight": "normal", "titleColor": "black", "titlePadding": 1}},
            "y": {"field": "sigmav", "type": "quantitative", "scale": {"type": "log", "domain": [1e-32, 1e-23], "nice": false},
              "axis": {"orient": "left", "zindex": 1, "grid": false,
                "values": [1e-32,2e-32,3e-32,4e-32,5e-32,6e-32,7e-32,8e-32,9e-32,1e-31,2e-31,3e-31,4e-31,5e-31,6e-31,7e-31,8e-31,9e-31,1e-30,2e-30,3e-30,4e-30,5e-30,6e-30,7e-30,8e-30,9e-30,1e-29,2e-29,3e-29,4e-29,5e-29,6e-29,7e-29,8e-29,9e-29,1e-28,2e-28,3e-28,4e-28,5e-28,6e-28,7e-28,8e-28,9e-28,1e-27,2e-27,3e-27,4e-27,5e-27,6e-27,7e-27,8e-27,9e-27,1e-26,2e-26,3e-26,4e-26,5e-26,6e-26,7e-26,8e-26,9e-26,1e-25,2e-25,3e-25,4e-25,5e-25,6e-25,7e-25,8e-25,9e-25,1e-24,2e-24,3e-24,4e-24,5e-24,6e-24,7e-24,8e-24,9e-24,1e-23],
                "tickSize": {"condition": {"test": "abs(log(datum.value)/LN10 - round(log(datum.value)/LN10)) < 0.01", "value": -8}, "value": -4.5},
                "tickColor": "black", "tickWidth": 1, "domainColor": "black", "domainWidth": 1.5,
                "labelExpr": "abs(log(datum.value)/LN10 - round(log(datum.value)/LN10)) < 0.01 ? '10' + ['⁻³²','⁻³¹','⁻³⁰','⁻²⁹','⁻²⁸','⁻²⁷','⁻²⁶','⁻²⁵','⁻²⁴','⁻²³'][round(log(datum.value)/LN10) + 32] : ''",
                "labelFont": "DejaVu Sans", "labelFontSize": 15.5, "labelColor": "black", "labelPadding": 14, "labelFlush": false, "labelOverlap": false, "labelBound": false,
                "title": "⟨σv⟩ (cm³ s⁻¹)", "titleFont": "DejaVu Serif", "titleFontSize": 23, "titleFontWeight": "normal", "titleColor": "black", "titlePadding": 11}},
            "y2": {"datum": 1e-32}
          }
        },
        {
          "transform": [{"filter": "datum.series == 'DAMA (2008)' && datum.kind == 'solid'"}],
          "mark": {"type": "area", "interpolate": "monotone", "clip": true, "stroke": "#ff9a2a", "strokeWidth": 1.3,
            "fill": {"gradient": "linear", "x1": 0, "y1": 0, "x2": 0.9713, "y2": 1.0271, "stops": [
              {"offset":0.025,"color":"#ff880000"},{"offset":0.028,"color":"#ff880070"},{"offset":0.031,"color":"#ff880000"},
              {"offset":0.053,"color":"#ff880000"},{"offset":0.056,"color":"#ff880070"},{"offset":0.059,"color":"#ff880000"},
              {"offset":0.081,"color":"#ff880000"},{"offset":0.084,"color":"#ff880070"},{"offset":0.087,"color":"#ff880000"},
              {"offset":0.109,"color":"#ff880000"},{"offset":0.112,"color":"#ff880070"},{"offset":0.115,"color":"#ff880000"},
              {"offset":0.137,"color":"#ff880000"},{"offset":0.14,"color":"#ff880070"},{"offset":0.143,"color":"#ff880000"},
              {"offset":0.165,"color":"#ff880000"},{"offset":0.168,"color":"#ff880070"},{"offset":0.171,"color":"#ff880000"},
              {"offset":0.193,"color":"#ff880000"},{"offset":0.196,"color":"#ff880070"},{"offset":0.199,"color":"#ff880000"},
              {"offset":0.221,"color":"#ff880000"},{"offset":0.224,"color":"#ff880070"},{"offset":0.227,"color":"#ff880000"},
              {"offset":0.249,"color":"#ff880000"},{"offset":0.252,"color":"#ff880070"},{"offset":0.255,"color":"#ff880000"},
              {"offset":0.277,"color":"#ff880000"},{"offset":0.28,"color":"#ff880070"},{"offset":0.283,"color":"#ff880000"},
              {"offset":0.305,"color":"#ff880000"},{"offset":0.308,"color":"#ff880070"},{"offset":0.311,"color":"#ff880000"},
              {"offset":0.333,"color":"#ff880000"},{"offset":0.336,"color":"#ff880070"},{"offset":0.339,"color":"#ff880000"},
              {"offset":0.361,"color":"#ff880000"},{"offset":0.364,"color":"#ff880070"},{"offset":0.367,"color":"#ff880000"},
              {"offset":0.389,"color":"#ff880000"},{"offset":0.392,"color":"#ff880070"},{"offset":0.395,"color":"#ff880000"},
              {"offset":0.417,"color":"#ff880000"},{"offset":0.42,"color":"#ff880070"},{"offset":0.423,"color":"#ff880000"},
              {"offset":0.445,"color":"#ff880000"},{"offset":0.448,"color":"#ff880070"},{"offset":0.451,"color":"#ff880000"},
              {"offset":0.473,"color":"#ff880000"},{"offset":0.476,"color":"#ff880070"},{"offset":0.479,"color":"#ff880000"},
              {"offset":0.501,"color":"#ff880000"},{"offset":0.504,"color":"#ff880070"},{"offset":0.507,"color":"#ff880000"},
              {"offset":0.529,"color":"#ff880000"},{"offset":0.532,"color":"#ff880070"},{"offset":0.535,"color":"#ff880000"},
              {"offset":0.557,"color":"#ff880000"},{"offset":0.56,"color":"#ff880070"},{"offset":0.563,"color":"#ff880000"},
              {"offset":0.585,"color":"#ff880000"},{"offset":0.588,"color":"#ff880070"},{"offset":0.591,"color":"#ff880000"},
              {"offset":0.613,"color":"#ff880000"},{"offset":0.616,"color":"#ff880070"},{"offset":0.619,"color":"#ff880000"},
              {"offset":0.641,"color":"#ff880000"},{"offset":0.644,"color":"#ff880070"},{"offset":0.647,"color":"#ff880000"},
              {"offset":0.669,"color":"#ff880000"},{"offset":0.672,"color":"#ff880070"},{"offset":0.675,"color":"#ff880000"},
              {"offset":0.697,"color":"#ff880000"},{"offset":0.7,"color":"#ff880070"},{"offset":0.703,"color":"#ff880000"},
              {"offset":0.725,"color":"#ff880000"},{"offset":0.728,"color":"#ff880070"},{"offset":0.731,"color":"#ff880000"},
              {"offset":0.753,"color":"#ff880000"},{"offset":0.756,"color":"#ff880070"},{"offset":0.759,"color":"#ff880000"},
              {"offset":0.781,"color":"#ff880000"},{"offset":0.784,"color":"#ff880070"},{"offset":0.787,"color":"#ff880000"},
              {"offset":0.809,"color":"#ff880000"},{"offset":0.812,"color":"#ff880070"},{"offset":0.815,"color":"#ff880000"},
              {"offset":0.837,"color":"#ff880000"},{"offset":0.84,"color":"#ff880070"},{"offset":0.843,"color":"#ff880000"},
              {"offset":0.865,"color":"#ff880000"},{"offset":0.868,"color":"#ff880070"},{"offset":0.871,"color":"#ff880000"},
              {"offset":0.893,"color":"#ff880000"},{"offset":0.896,"color":"#ff880070"},{"offset":0.899,"color":"#ff880000"},
              {"offset":0.921,"color":"#ff880000"},{"offset":0.924,"color":"#ff880070"},{"offset":0.927,"color":"#ff880000"},
              {"offset":0.949,"color":"#ff880000"},{"offset":0.952,"color":"#ff880070"},{"offset":0.955,"color":"#ff880000"},
              {"offset":0.977,"color":"#ff880000"},{"offset":0.98,"color":"#ff880070"},{"offset":0.983,"color":"#ff880000"}
            ]}},
          "encoding": {
            "x": {"field": "mass", "type": "quantitative",
              "axis": {"orient": "top", "values": [10, 20, 30, 40, 50, 60, 70, 80, 90, 100, 200], "zindex": 1, "grid": false, "labels": false, "title": null,
                "tickSize": {"condition": {"test": "datum.value == 10 || datum.value == 100", "value": -8}, "value": -4.5},
                "tickColor": "black", "tickWidth": 1, "domainColor": "black", "domainWidth": 1.5}},
            "y": {"field": "sigmav", "type": "quantitative",
              "axis": {"orient": "right", "zindex": 1, "grid": false, "labels": false, "title": null,
                "values": [1e-32,2e-32,3e-32,4e-32,5e-32,6e-32,7e-32,8e-32,9e-32,1e-31,2e-31,3e-31,4e-31,5e-31,6e-31,7e-31,8e-31,9e-31,1e-30,2e-30,3e-30,4e-30,5e-30,6e-30,7e-30,8e-30,9e-30,1e-29,2e-29,3e-29,4e-29,5e-29,6e-29,7e-29,8e-29,9e-29,1e-28,2e-28,3e-28,4e-28,5e-28,6e-28,7e-28,8e-28,9e-28,1e-27,2e-27,3e-27,4e-27,5e-27,6e-27,7e-27,8e-27,9e-27,1e-26,2e-26,3e-26,4e-26,5e-26,6e-26,7e-26,8e-26,9e-26,1e-25,2e-25,3e-25,4e-25,5e-25,6e-25,7e-25,8e-25,9e-25,1e-24,2e-24,3e-24,4e-24,5e-24,6e-24,7e-24,8e-24,9e-24,1e-23],
                "tickSize": {"condition": {"test": "abs(log(datum.value)/LN10 - round(log(datum.value)/LN10)) < 0.01", "value": -8}, "value": -4.5},
                "tickColor": "black", "tickWidth": 1, "domainColor": "black", "domainWidth": 1.5}},
            "y2": {"datum": 1e-32}
          }
        },
        {
          "mark": {"type": "line", "interpolate": "monotone", "clip": true, "strokeWidth": 2},
          "encoding": {
            "x": {"field": "mass", "type": "quantitative", "axis": null},
            "y": {"field": "sigmav", "type": "quantitative", "axis": null},
            "color": {"field": "series", "type": "nominal", "scale": {"domain": ["CRESST-II (2011)", "DAMA (2008)"], "range": ["#0a640a", "#ff8c00"]},
              "legend": {"orient": "top-right", "offset": 8, "title": null, "symbolType": "stroke", "symbolSize": 900, "symbolStrokeWidth": 2, "clipHeight": 20,
                "labelFont": "DejaVu Sans", "labelFontSize": 14, "labelColor": "black", "labelOffset": 12, "padding": 4, "rowPadding": 0,
                "strokeColor": "black", "fillColor": "white", "cornerRadius": 3}},
            "strokeDash": {"field": "kind", "type": "nominal", "scale": {"domain": ["solid", "dashed"], "range": [[1, 0], [6, 4]]}, "legend": null},
            "detail": {"field": "kind"}
          }
        },
        {
          "data": {"values": [{}]},
          "mark": {"type": "text", "text": "5-year, track events", "align": "left", "baseline": "middle", "font": "DejaVu Sans", "fontSize": 14.5, "color": "black"},
          "encoding": {"x": {"datum": 50.5, "type": "quantitative", "axis": null}, "y": {"datum": 6.0e-26, "type": "quantitative", "axis": null}}
        },
        {
          "data": {"values": [{}]},
          "mark": {"type": "text", "text": "Eₜₕ=10 GeV, 2σ significance.", "align": "left", "baseline": "middle", "font": "DejaVu Sans", "fontSize": 14.3, "color": "black"},
          "encoding": {"x": {"datum": 50.5, "type": "quantitative", "axis": null}, "y": {"datum": 1.86e-26, "type": "quantitative", "axis": null}}
        },
        {
          "data": {"values": [{}]},
          "mark": {"type": "text", "text": "χχ→ττ, ψₘₐₓ=5°", "align": "left", "baseline": "middle", "font": "DejaVu Serif", "fontSize": 15, "color": "#222222"},
          "encoding": {"x": {"datum": 50.5, "type": "quantitative", "axis": null}, "y": {"datum": 5.75e-27, "type": "quantitative", "axis": null}}
        }
      ]
    }
  ]
}
